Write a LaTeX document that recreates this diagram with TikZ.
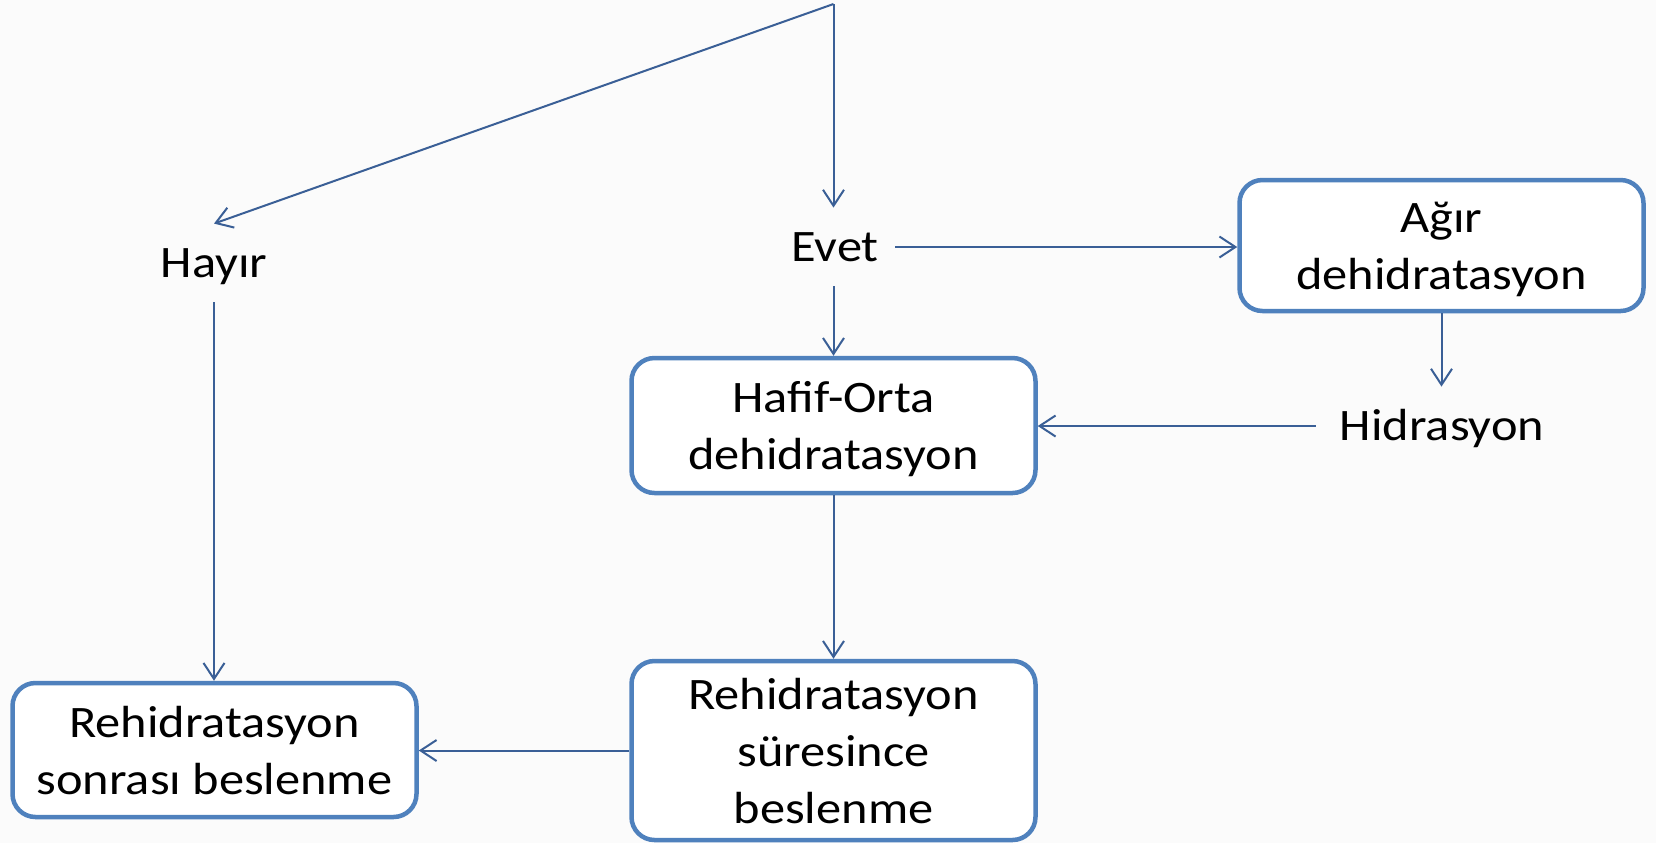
\documentclass[tikz,border=0pt]{standalone}
\usepackage{fontspec}
\setmainfont{Carlito}[FakeStretch=1.12]
\usetikzlibrary{arrows.meta}
\definecolor{linec}{RGB}{58,95,150}
\definecolor{boxc}{RGB}{79,129,189}
\definecolor{bgc}{RGB}{251,251,251}
\tikzset{
  flowbox/.style={draw=boxc, line width=2.25pt, fill=white, rounded corners=11.5pt,
    align=center, inner sep=0pt, minimum width=202pt,
    font=\fontsize{22.5pt}{28.5pt}\selectfont},
  flowlabel/.style={inner xsep=8pt, inner ysep=0pt, minimum height=39pt,
    text height=14.5pt, text depth=0pt, font=\fontsize{22.5pt}{28.5pt}\selectfont},
  arr/.style={draw=linec, line width=1pt, -{Straight Barb[length=8pt,width=10.5pt,line width=1pt]}},
  plain/.style={draw=linec, line width=1pt}
}
\begin{document}
\begin{tikzpicture}[x=0.5pt,y=-0.5pt]
\fill[bgc] (0,0) rectangle (1656,843);
\useasboundingbox (0,0) rectangle (1656,843);

\coordinate (top) at (833.5,4);
\node[flowlabel] (hayir) at (214,263) {Hayır};
\node[flowlabel] (evet) at (835,247) {Evet};
\node[flowlabel] (hidr) at (1442,426) {Hidrasyon};

\node[flowbox, minimum height=65.5pt] (agir) at (1441.5,245.5) {Ağır\\\smash{dehidratasyon}};
\node[flowbox, minimum height=67.5pt] (hafif) at (833.5,425.5) {Hafif-Orta\\\smash{dehidratasyon}};
\node[flowbox, minimum height=89.5pt] (sure) at (833.5,750.5) {Rehidratasyon\\süresince\\\smash{beslenme}};
\node[flowbox, minimum height=67pt] (sonra) at (214.5,750) {Rehidratasyon\\\smash{sonrası beslenme}};

\draw[arr] (top) -- (hayir.north);
\draw[arr] (top) -- (top |- evet.north);
\draw[arr] (evet.east) -- (evet.east -| agir.west);
\draw[arr] (top |- evet.south) -- (top |- hafif.north);
\draw[arr] (agir.south) -- (agir.south |- hidr.north);
\draw[arr, shorten <=4pt] (hidr.west) -- (hidr.west -| hafif.east);
\draw[arr] (hafif.south) -- (sure.north);
\draw[arr] (sure.west) -- (sure.west -| sonra.east);
\draw[arr] (hayir.south) -- (hayir.south |- sonra.north);
\end{tikzpicture}
\end{document}
